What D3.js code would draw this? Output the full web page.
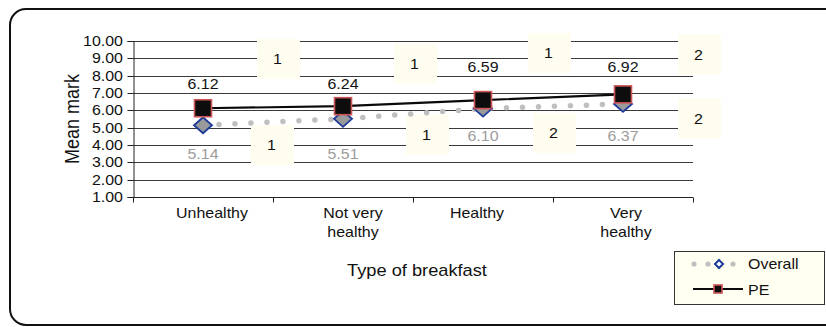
<!DOCTYPE html>
<html>
<head>
<meta charset="utf-8">
<script src="https://cdn.jsdelivr.net/npm/d3@7/dist/d3.min.js"></script>
<style>
  html, body { margin: 0; padding: 0; background: #fff; }
  svg { display: block; font-family: "Liberation Sans", Arial, sans-serif; }
</style>
</head>
<body>
<svg id="chart" width="826" height="327"></svg>
<script>
// ---- data ----
const categories = ["Unhealthy", "Not very healthy", "Healthy", "Very healthy"];
const categoryLines = [["Unhealthy"], ["Not very", "healthy"], ["Healthy"], ["Very", "healthy"]];
const overallValues = [5.14, 5.51, 6.10, 6.37];
const peValues = [6.12, 6.24, 6.59, 6.92];
const yTicks = [1, 2, 3, 4, 5, 6, 7, 8, 9, 10];
const topBoxLabels = ["1", "1", "1", "2"];
const bottomBoxLabels = ["1", "1", "2", "2"];
const seriesNames = ["Overall", "PE"];

// ---- layout ----
const SX = 1.14; // horizontal stretch of text, as in the reference
const svg = d3.select("#chart");
const plot = { left: 133, right: 693, top: 41, bottom: 197 };

const x = d3.scaleBand().domain(categories).range([plot.left, plot.right]);
const y = d3.scaleLinear().domain([1, 10]).range([plot.bottom, plot.top]);
const cx = c => x(c) + x.bandwidth() / 2;

// text helper: text placed at (tx,ty), stretched horizontally
function addText(parent, tx, ty, str, size, anchor, fill, rotate) {
  const gt = parent.append("g")
    .attr("transform", `translate(${tx},${ty}) scale(${SX},1)` + (rotate ? ` rotate(${rotate})` : ""));
  return gt.append("text").attr("x", 0).attr("y", 0)
    .attr("text-anchor", anchor).attr("font-size", size).attr("fill", fill).text(str);
}

// outer frame
svg.append("rect")
  .attr("x", 10).attr("y", 9).attr("width", 830).attr("height", 316)
  .attr("rx", 16).attr("ry", 16)
  .attr("fill", "none").attr("stroke", "#111").attr("stroke-width", 2);

// gridlines
const g = svg.append("g");
g.selectAll("line.grid").data(yTicks.filter(t => t > 1)).join("line")
  .attr("class", "grid")
  .attr("x1", plot.left).attr("x2", plot.right)
  .attr("y1", d => Math.round(y(d)) + 0.5).attr("y2", d => Math.round(y(d)) + 0.5)
  .attr("stroke", "#3a3a3a").attr("stroke-width", 1);

// y axis
const yAxis = d3.axisLeft(y).tickValues(yTicks).tickFormat(() => "").tickSize(6);
const yg = svg.append("g").attr("transform", `translate(${plot.left + 0.5},0)`).call(yAxis);
yg.select(".domain").attr("stroke", "#222");
yg.selectAll(".tick line").attr("stroke", "#222");
yg.selectAll(".tick").attr("transform", d => `translate(0,${Math.round(y(d)) + 0.5})`);
const fmt = d3.format(".2f");
yTicks.forEach(t => {
  addText(svg, 123, Math.round(y(t)) + 5, fmt(t), 14, "end", "#111");
});

// x axis
const xg = svg.append("g").attr("transform", `translate(0,${Math.round(plot.bottom) + 0.5})`);
xg.append("line").attr("x1", plot.left).attr("x2", plot.right).attr("y1", 0).attr("y2", 0)
  .attr("stroke", "#222");
const bounds = categories.map(c => x(c)).concat([plot.right]);
xg.selectAll("line.xt").data(bounds).join("line")
  .attr("class", "xt")
  .attr("x1", d => Math.round(d) + 0.5).attr("x2", d => Math.round(d) + 0.5)
  .attr("y1", 0).attr("y2", 5).attr("stroke", "#222");
const labelDx = [9, 10, -6, 3];
categories.forEach((c, i) => {
  categoryLines[i].forEach((ln, k) => {
    addText(svg, cx(c) + labelDx[i], plot.bottom + 21 + k * 19, ln, 14, "middle", "#111");
  });
});

// axis titles
addText(svg, 79, 119, "Mean mark", 18, "middle", "#111", -90);
addText(svg, 417, 276, "Type of breakfast", 16, "middle", "#111");

// stray cream label boxes
const boxFill = "#fffdf0";
const topBoxPos = [[278.5, 59], [415.5, 63.5], [549.5, 53], [699.5, 54.5]];
const botBoxPos = [[272.5, 145], [427.5, 135], [554.5, 133], [699.5, 118.5]];
function drawBoxes(labels, pos) {
  const bg = svg.append("g");
  labels.forEach((lab, i) => {
    const [bx, by] = pos[i];
    bg.append("rect").attr("x", bx - 21.5).attr("y", by - 20).attr("width", 43).attr("height", 40)
      .attr("fill", boxFill);
    addText(bg, bx - 1, by + 5, lab, 14, "middle", "#111");
  });
}
drawBoxes(topBoxLabels, topBoxPos);
drawBoxes(bottomBoxLabels, botBoxPos);

// series
const lineGen = d3.line().x((d, i) => cx(categories[i])).y(d => y(d));

svg.append("path").datum(overallValues)
  .attr("d", lineGen)
  .attr("fill", "none").attr("stroke", "#bfbfbf").attr("stroke-width", 5.5)
  .attr("stroke-linecap", "round").attr("stroke-dasharray", "0 16");

svg.append("path").datum(peValues)
  .attr("d", lineGen)
  .attr("fill", "none").attr("stroke", "#0a0a0a").attr("stroke-width", 2.2);

// overall markers (diamonds)
svg.selectAll("path.ov").data(overallValues).join("path")
  .attr("class", "ov")
  .attr("d", (d, i) => {
    const px = cx(categories[i]), py = y(d), w = 9, h = 8;
    return `M${px},${py - h} L${px + w},${py} L${px},${py + h} L${px - w},${py} Z`;
  })
  .attr("fill", "#9a9a9a").attr("stroke", "#1c3a9c").attr("stroke-width", 1.8);

// PE markers (squares)
svg.selectAll("rect.pe").data(peValues).join("rect")
  .attr("class", "pe")
  .attr("x", (d, i) => cx(categories[i]) - 8.5).attr("y", d => y(d) - 8.5)
  .attr("width", 17).attr("height", 17)
  .attr("fill", "#0d0d0d").attr("stroke", "#cc5555").attr("stroke-width", 1.6);

// data labels
const peLabelAt = [7.5, 7.5, 8.5, 8.5];
const ovLabelAt = [3.5, 3.5, 4.5, 4.5];
peValues.forEach((v, i) => {
  addText(svg, cx(categories[i]), y(peLabelAt[i]) + 5, v.toFixed(2), 14, "middle", "#111");
});
overallValues.forEach((v, i) => {
  addText(svg, cx(categories[i]), y(ovLabelAt[i]) + 5, v.toFixed(2), 14, "middle", "#9c9c9c");
});

// legend
const lg = svg.append("g");
lg.append("rect").attr("x", 674.5).attr("y", 251.5).attr("width", 150).attr("height", 53)
  .attr("fill", "#fffff2").attr("stroke", "#333").attr("stroke-width", 1);
[694, 708, 733].forEach(px => {
  lg.append("circle").attr("cx", px).attr("cy", 264).attr("r", 2.6).attr("fill", "#bfbfbf");
});
lg.append("path").attr("d", "M719,260 L723,264 L719,268 L715,264 Z")
  .attr("fill", "#ffffff").attr("stroke", "#1c3a9c").attr("stroke-width", 2);
addText(lg, 748, 269, seriesNames[0], 14, "start", "#111");
lg.append("line").attr("x1", 693).attr("x2", 743).attr("y1", 289).attr("y2", 289)
  .attr("stroke", "#0a0a0a").attr("stroke-width", 2.2);
lg.append("rect").attr("x", 714).attr("y", 285).attr("width", 8).attr("height", 8)
  .attr("fill", "#0d0d0d").attr("stroke", "#cc5555").attr("stroke-width", 1.6);
addText(lg, 748, 295, seriesNames[1], 14, "start", "#111");
</script>
</body>
</html>
